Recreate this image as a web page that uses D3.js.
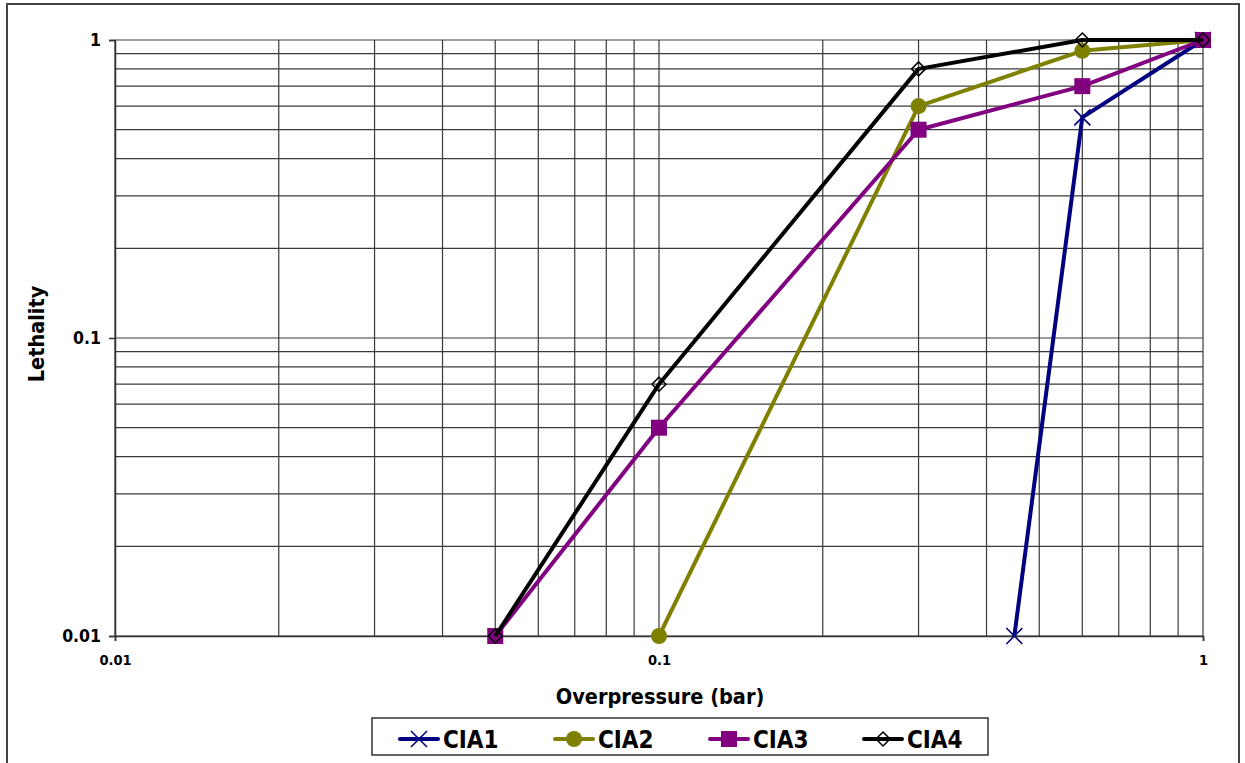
<!DOCTYPE html>
<html><head><meta charset="utf-8">
<script src="https://cdn.jsdelivr.net/npm/d3@7"></script>
<style>body{margin:0;background:#fff}svg{display:block}text{font-family:"DejaVu Sans Condensed","DejaVu Sans",sans-serif;font-stretch:condensed;font-weight:bold;fill:#000}</style>
</head><body>
<svg id="c" width="1245" height="763"></svg>
<script>
// ---- data ----
const seriesNames = ["CIA1","CIA2","CIA3","CIA4"];
const seriesColors = ["#000080","#808000","#800080","#000000"];
const cia1X = [0.45, 0.6, 1];
const cia1Y = [0.01, 0.55, 1];
const cia2X = [0.1, 0.3, 0.6, 1];
const cia2Y = [0.01, 0.6, 0.92, 1];
const cia3X = [0.05, 0.1, 0.3, 0.6, 1];
const cia3Y = [0.01, 0.05, 0.5, 0.7, 1];
const cia4X = [0.05, 0.1, 0.3, 0.6, 1];
const cia4Y = [0.01, 0.07, 0.8, 1, 1];
const majorTicks = [0.01, 0.1, 1];
const majorTickLabels = ["0.01", "0.1", "1"];
const gridTicks = [0.01,0.02,0.03,0.04,0.05,0.06,0.07,0.08,0.09,0.1,0.2,0.3,0.4,0.5,0.6,0.7,0.8,0.9,1];
const xTitle = "Overpressure (bar)";
const yTitle = "Lethality";

const svg = d3.select("#c");
const L = 115, R = 1203, T = 40, B = 636;
const x = d3.scaleLog().domain([0.01, 1]).range([L, R]);
const y = d3.scaleLog().domain([0.01, 1]).range([B, T]);
const FF = '"DejaVu Sans Condensed","DejaVu Sans",sans-serif';

// outer border
svg.append("rect").attr("x", 7).attr("y", 4).attr("width", 1232).attr("height", 770)
  .attr("fill", "#fff").attr("stroke", "#444").attr("stroke-width", 2);

// grid
const g = svg.append("g");
g.selectAll("line.vx").data(gridTicks).join("line")
  .attr("x1", d => x(d)).attr("x2", d => x(d)).attr("y1", T).attr("y2", B)
  .attr("stroke", "#3a3a3a").attr("stroke-width", 1.2);
g.selectAll("line.hy").data(gridTicks).join("line")
  .attr("y1", d => y(d)).attr("y2", d => y(d)).attr("x1", L).attr("x2", R)
  .attr("stroke", "#3a3a3a").attr("stroke-width", 1.2);

// axes
const yAxis = d3.axisLeft(y).tickValues(majorTicks).tickFormat((d, i) => majorTickLabels[i]).tickSize(6).tickPadding(8);
const ya = svg.append("g").attr("transform", `translate(${L},0)`).call(yAxis);
ya.select(".domain").attr("stroke", "#333").attr("stroke-width", 1.5);
ya.selectAll(".tick line").attr("stroke", "#333").attr("stroke-width", 1.5);
ya.selectAll("text").style("font-size", "17.5px").style("font-family", FF).style("font-weight", "bold");

const xAxis = d3.axisBottom(x).tickValues(majorTicks).tickFormat((d, i) => majorTickLabels[i]).tickSize(5).tickPadding(14);
const xa = svg.append("g").attr("transform", `translate(0,${B})`).call(xAxis);
xa.select(".domain").attr("stroke", "#333").attr("stroke-width", 1.5);
xa.selectAll(".tick line").attr("stroke", "#333").attr("stroke-width", 1.5);
xa.selectAll("text").style("font-size", "14.5px").style("font-family", FF).style("font-weight", "bold");

// titles
svg.append("text").attr("x", 660).attr("y", 704).attr("text-anchor", "middle")
  .style("font-size", "21.5px").text(xTitle);
svg.append("text").attr("transform", "translate(44,334) rotate(-90)").attr("text-anchor", "middle")
  .style("font-size", "21.5px").text(yTitle);

// series
const allX = [cia1X, cia2X, cia3X, cia4X];
const allY = [cia1Y, cia2Y, cia3Y, cia4Y];
const line = d3.line().x(d => x(d[0])).y(d => y(d[1]));

function marker(sel, i, cx, cy) {
  const c = seriesColors[i];
  if (i === 0) {
    sel.append("path").attr("d", `M${cx-8},${cy-8}L${cx+8},${cy+8}M${cx-8},${cy+8}L${cx+8},${cy-8}`)
      .attr("stroke", c).attr("stroke-width", 1.6).attr("fill", "none");
  } else if (i === 1) {
    sel.append("circle").attr("cx", cx).attr("cy", cy).attr("r", 8).attr("fill", c);
  } else if (i === 2) {
    sel.append("rect").attr("x", cx - 8).attr("y", cy - 8).attr("width", 16).attr("height", 16).attr("fill", c);
  } else {
    sel.append("path").attr("d", `M${cx},${cy-7}L${cx+7},${cy}L${cx},${cy+7}L${cx-7},${cy}Z`)
      .attr("stroke", c).attr("stroke-width", 1.5).attr("fill", "none");
  }
}

seriesNames.forEach((name, i) => {
  const pts = allX[i].map((v, j) => [v, allY[i][j]]);
  const sg = svg.append("g");
  sg.append("path").attr("d", line(pts)).attr("fill", "none")
    .attr("stroke", seriesColors[i]).attr("stroke-width", 4).attr("stroke-linejoin", "round");
  pts.forEach(p => marker(sg, i, x(p[0]), y(p[1])));
});

// legend
svg.append("rect").attr("x", 372).attr("y", 718).attr("width", 616).attr("height", 37)
  .attr("fill", "#fff").attr("stroke", "#333").attr("stroke-width", 1.5);
const legX = [400, 555, 710, 864];
seriesNames.forEach((name, i) => {
  const lg = svg.append("g");
  const x0 = legX[i], cy = 739;
  lg.append("line").attr("x1", x0).attr("x2", x0 + 38).attr("y1", cy).attr("y2", cy)
    .attr("stroke", seriesColors[i]).attr("stroke-width", 4).attr("stroke-linecap", "round");
  marker(lg, i, x0 + 19, cy);
  lg.append("text").attr("x", x0 + 43).attr("y", cy + 9).style("font-size", "24px").text(name);
});
</script>
</body></html>
